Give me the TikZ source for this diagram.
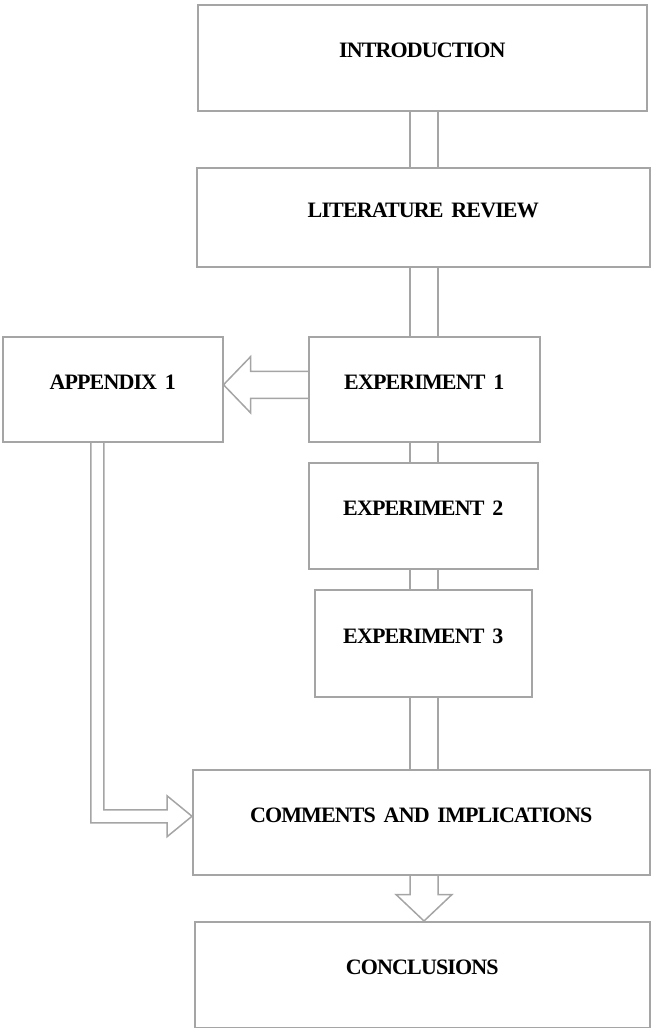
\documentclass[tikz,border=0pt]{standalone}
\usepackage{fontspec}
\setmainfont{Liberation Serif}[WordSpace=1.7, LetterSpace=-4]
\usetikzlibrary{calc}
\definecolor{edge}{RGB}{165,165,165}
\begin{document}
\begin{tikzpicture}[x=1pt,y=-1pt,
  box/.style={draw=edge, line width=1.5pt, rectangle, anchor=north west,
    font=\fontsize{22}{24}\selectfont\bfseries, text height=15pt, text depth=15pt, inner sep=0pt},
  dbl/.style={draw=edge, line width=1.5pt, double=white, double distance=26.5pt},
  blk/.style={draw=edge, line width=1.5pt, line join=miter}]
\useasboundingbox (0,0) rectangle (651,1028);
\node[box, minimum width=449pt, minimum height=106pt] (intro) at (197,4) {INTRODUCTION};
\node[box, minimum width=453pt, minimum height=99pt] (lit) at (196,167) {LITERATURE REVIEW};
\node[box, minimum width=231pt, minimum height=105pt] (exp1) at (308,336) {EXPERIMENT 1};
\node[box, minimum width=220pt, minimum height=105pt] (app) at (2,336) {APPENDIX 1};
\node[box, minimum width=229pt, minimum height=106pt] (exp2) at (308,462) {EXPERIMENT 2};
\node[box, minimum width=217pt, minimum height=107pt] (exp3) at (314,589) {EXPERIMENT 3};
\node[box, minimum width=457pt, minimum height=105pt] (com) at (192,769) {COMMENTS AND IMPLICATIONS};
\node[box, minimum width=455pt, minimum height=106pt] (con) at (194,921) {CONCLUSIONS};
\coordinate (axis) at (424,0);
\draw[dbl] (intro.south -| axis) -- (lit.north -| axis);
\draw[dbl] (lit.south -| axis) -- (exp1.north -| axis);
\draw[dbl] (exp1.south -| axis) -- (exp2.north -| axis);
\draw[dbl] (exp2.south -| axis) -- (exp3.north -| axis);
\draw[dbl] (exp3.south -| axis) -- (com.north -| axis);
% comments -> conclusions
\draw[blk] ($(com.south -| axis)+(-14,0)$) -- ++(0,19) -- ++(-14,0) -- (con.north -| axis)
  -- ($(com.south -| axis)+(28,19)$) -- ++(-14,0) -- ++(0,-19);
% experiment 1 -> appendix
\coordinate (tipA) at ($(app.east)+(0,-4.5)$);
\draw[blk] ($(exp1.west)+(0,-18)$) -- ($(tipA)+(27,-13.5)$) -- ($(tipA)+(27,-28)$) -- (tipA)
  -- ($(tipA)+(27,28)$) -- ($(tipA)+(27,13.5)$) -- ($(exp1.west)+(0,9)$);
% appendix -> comments
\coordinate (tipB) at ($(com.west)+(0,-6)$);
\draw[blk] ($(app.south)+(-22,0)$) |- ($(tipB)+(-25,6.5)$) -- ($(tipB)+(-25,20.5)$) -- (tipB)
  -- ($(tipB)+(-25,-20.5)$) -- ($(tipB)+(-25,-6.5)$) -| ($(app.south)+(-9,0)$);
\end{tikzpicture}
\end{document}
